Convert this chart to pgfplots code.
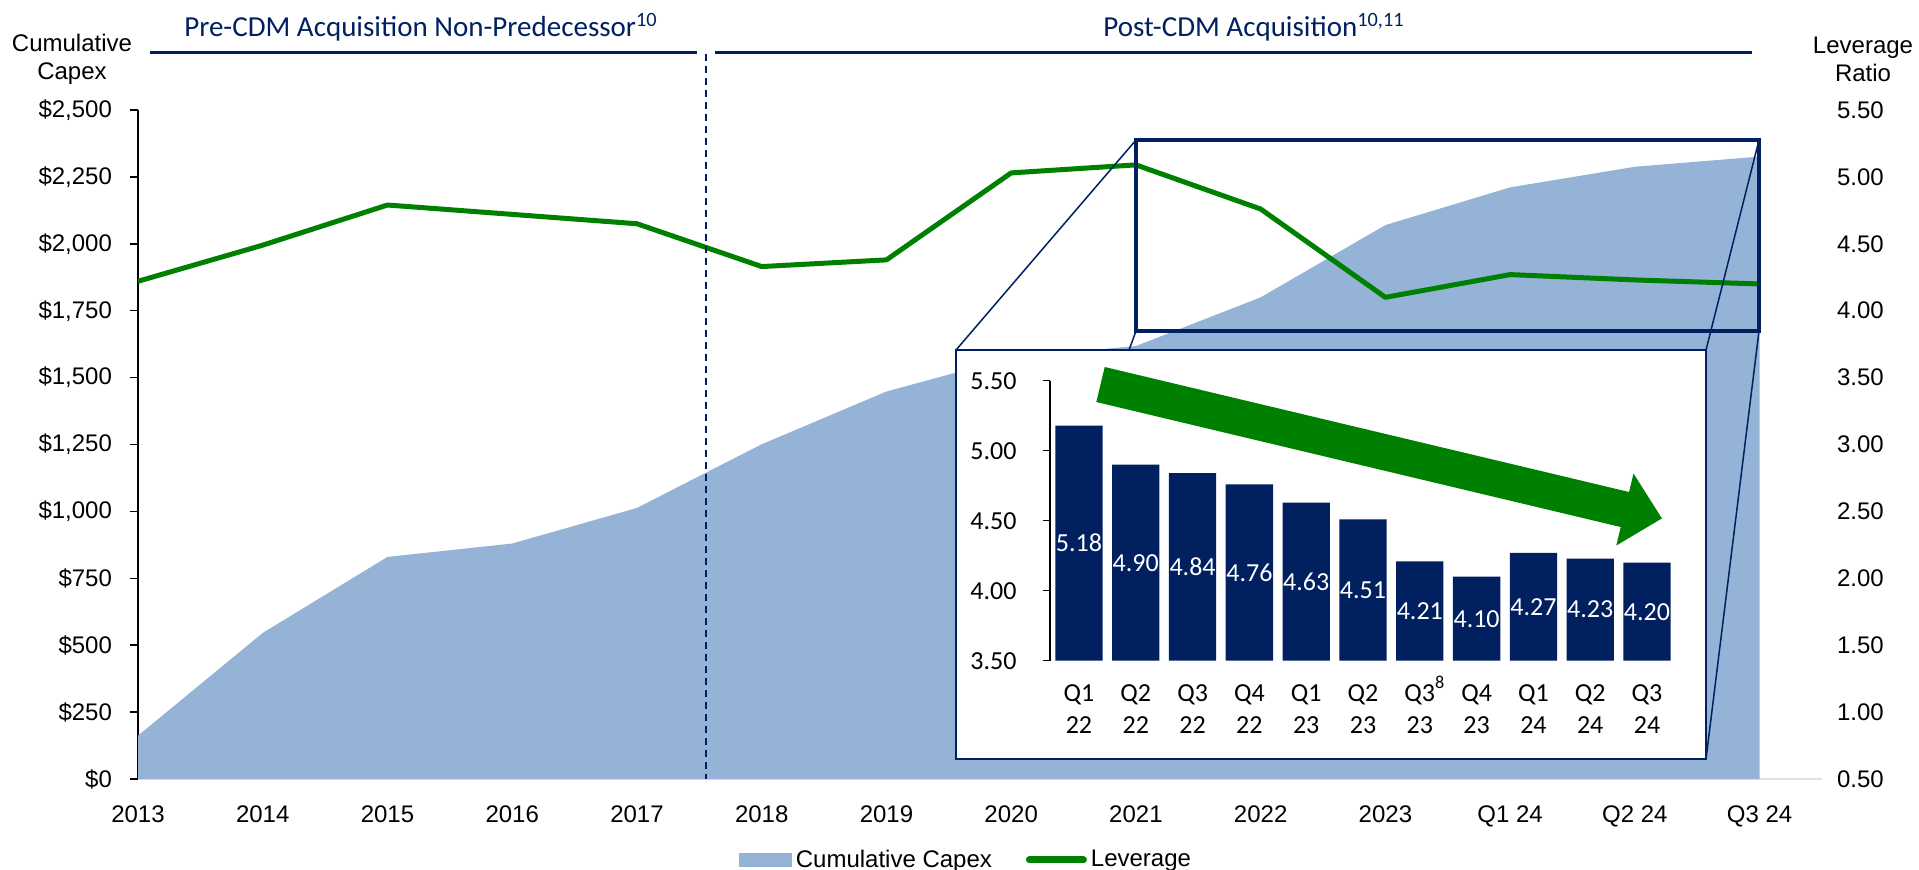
\documentclass[border=0pt]{standalone}
\usepackage{fontspec}
\setmainfont{Liberation Sans}
\newfontfamily\calibri{Carlito}
\usepackage{pgfplots}
\pgfplotsset{compat=1.18}
\usepackage{pgfplotstable}
\definecolor{capex}{RGB}{149,179,215}
\definecolor{lev}{RGB}{0,128,0}
\definecolor{navy}{RGB}{0,32,96}
\definecolor{axgray}{RGB}{225,225,215}

\pgfplotstableread{
x capex lev
0 162 4.22
1 546 4.49
2 830 4.79
3 880 4.72
4 1013 4.65
5 1251 4.33
6 1448 4.38
7 1575 5.03
8 1618 5.09
9 1800 4.76
10 2070 4.10
11 2211 4.27
12 2288 4.23
13 2326 4.20
}\maintable

\pgfplotstableread{
x v
0 5.18
1 4.90
2 4.84
3 4.76
4 4.63
5 4.51
6 4.21
7 4.10
8 4.27
9 4.23
10 4.20
}\insettable

\begin{document}
\begin{tikzpicture}
\path[use as bounding box] (0pt,0pt) rectangle (959.5pt,-434.5pt);

% ---------- main axis: cumulative capex ----------
\begin{axis}[
  at={(69pt,-389.5pt)}, anchor=south west,
  scale only axis, width=842pt, height=334.5pt,
  xmin=0, xmax=13.5, ymin=0, ymax=2500,
  axis x line*=bottom, axis y line*=left,
  x axis line style={draw=axgray, line width=1pt, -},
  y axis line style={draw=black, line width=0.75pt, -},
  xtick={0,...,13},
  xticklabels={2013,2014,2015,2016,2017,2018,2019,2020,2021,2022,2023,Q1 24,Q2 24,Q3 24},
  major x tick style={draw=none},
  ytick={0,250,...,2500},
  yticklabels={\$0,\$250,\$500,\$750,{\$1,000},{\$1,250},{\$1,500},{\$1,750},{\$2,000},{\$2,250},{\$2,500}},
  tick align=outside, major tick length=4pt,
  major y tick style={draw=black, line width=0.75pt},
  tick label style={font=\fontsize{12}{14}\selectfont},
  yticklabel style={xshift=-5.5pt},
  xticklabel style={yshift=-5pt, text height=9pt, text depth=0pt},
]
\addplot[fill=capex, draw=none] table[x=x, y=capex]{\maintable} \closedcycle;
\end{axis}

% ---------- secondary axis: leverage ----------
\begin{axis}[
  at={(69pt,-389.5pt)}, anchor=south west,
  scale only axis, width=842pt, height=334.5pt,
  xmin=0, xmax=13.5, ymin=0.5, ymax=5.5,
  axis x line=none, axis y line*=right,
  y axis line style={draw=none},
  xtick=\empty,
  ytick={0.5,1,...,5.5},
  yticklabels={0.50,1.00,1.50,2.00,2.50,3.00,3.50,4.00,4.50,5.00,5.50},
  major y tick style={draw=none},
  tick label style={font=\fontsize{12}{14}\selectfont},
  yticklabel style={xshift=4pt},
  legend columns=2,
  legend style={at={(0.4923,-0.121)}, anchor=center, draw=none, fill=none,
    font=\fontsize{12}{14}\selectfont,
    /tikz/every even column/.append style={column sep=15pt},
    inner sep=0pt},
]
\addlegendimage{legend image code/.code={\fill[capex] (0pt,-3.25pt) rectangle (26pt,3.25pt);}}
\addlegendentry{Cumulative Capex}
\addplot[lev, line width=2.5pt, line join=round,
  legend image code/.code={\draw[lev, line width=3.5pt, line cap=round] (0pt,0pt) -- (27pt,0pt);}]
  table[x=x, y=lev]{\maintable};
\addlegendentry{Leverage}
\end{axis}

% ---------- decorations in pixel units ----------
\begin{scope}[x=0.5pt, y=-0.5pt]
  % header texts
  \node[text=navy, font=\calibri\fontsize{14.5}{17}\selectfont] at (421,27)
    {Pre-CDM Acquisition Non-Predecessor\textsuperscript{10}};
  \node[text=navy, font=\calibri\fontsize{14.5}{17}\selectfont] at (1254,27)
    {Post-CDM Acquisition\textsuperscript{10,11}};
  \draw[navy, line width=1.5pt] (150,52) -- (697,52);
  \draw[navy, line width=1.5pt] (715,52) -- (1752,52);
  \draw[navy, line width=1pt, dash pattern=on 3.5pt off 2.5pt] (706,54) -- (706,779);
  % axis titles
  \node[align=center, font=\fontsize{12}{14}\selectfont] at (72,59) {Cumulative\\Capex};
  \node[align=center, font=\fontsize{12}{14}\selectfont] at (1863,59) {Leverage\\Ratio};
  % connector lines
  \draw[navy, line width=0.75pt] (956,350) -- (1136,140);
  \draw[navy, line width=0.75pt] (1129,350) -- (1136,331);
  \draw[navy, line width=0.75pt] (1706,350) -- (1759,140);
  \draw[navy, line width=0.75pt] (1759,331) -- (1706,759);
  % magnifier rectangle
  \draw[navy, line width=2pt] (1136,140) rectangle (1759,331);
  % inset box
  \draw[navy, line width=1pt, fill=white] (956,350) rectangle (1706,759);
\end{scope}

% ---------- inset axis ----------
\begin{axis}[
  at={(525pt,-330.35pt)}, anchor=south west,
  scale only axis, width=313pt, height=140pt,
  xmin=-0.51, xmax=10.51, ymin=3.5, ymax=5.5,
  axis x line*=bottom, axis y line*=left,
  x axis line style={draw=none},
  y axis line style={draw=black, line width=0.75pt, -},
  ytick={3.5,4,4.5,5,5.5},
  yticklabels={3.50,4.00,4.50,5.00,5.50},
  tick align=outside, major tick length=3.75pt,
  major y tick style={draw=black, line width=0.75pt},
  major x tick style={draw=none},
  xtick={0,...,10},
  xticklabels={{Q1\\22},{Q2\\22},{Q3\\22},{Q4\\22},{Q1\\23},{Q2\\23},{Q3\rlap{\smash{\raisebox{2pt}{\textsuperscript{8}}}}\\23},{Q4\\23},{Q1\\24},{Q2\\24},{Q3\\24}},
  xticklabel style={align=center, font=\calibri\fontsize{13}{16}\selectfont, yshift=-4.5pt},
  yticklabel style={font=\calibri\fontsize{13}{16}\selectfont, xshift=-9.5pt},
]
\addplot[ybar, bar width=23.65pt, fill=navy, draw=none] table[x=x, y=v]{\insettable};
\addplot[only marks, mark=none, nodes near coords, point meta=explicit symbolic,
  every node near coord/.style={font=\calibri\fontsize{13}{16}\selectfont, text=white, anchor=center}]
  table[x=x, y expr=(\thisrow{v}+3.5)/2, meta=v]{\insettable};
\end{axis}

% ---------- green trend arrow ----------
\begin{scope}[x=0.5pt, y=-0.5pt]
  \fill[lev] (1104.7,367.0) -- (1629.1,492.0) -- (1633.5,473.5) -- (1661.9,518.4)
    -- (1616.3,545.5) -- (1620.7,527.0) -- (1096.3,402.0) -- cycle;
\end{scope}
\end{tikzpicture}
\end{document}
